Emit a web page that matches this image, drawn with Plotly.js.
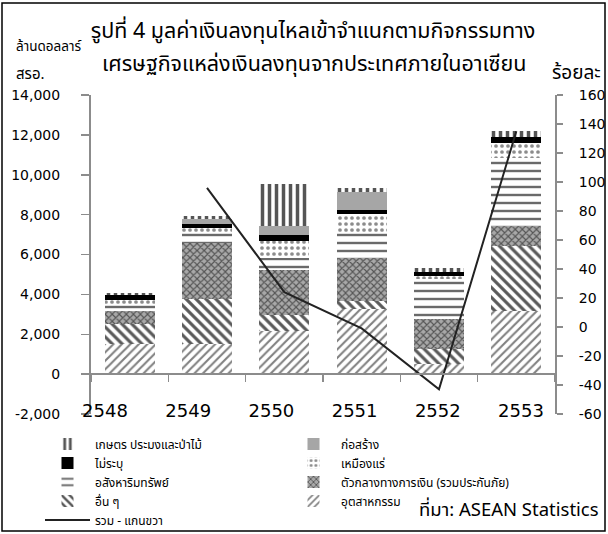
<!DOCTYPE html>
<html>
<head>
<meta charset="utf-8">
<script src="https://cdn.plot.ly/plotly-3.0.1.min.js"></script>
<style>html,body{margin:0;padding:0;background:#fff;}#chart{width:608px;height:534px;}</style>
</head>
<body>
<div id="chart"></div>
<script>
// ---- data ----
const years = ['2548', '2549', '2550', '2551', '2552', '2553'];
const industry     = [1500, 1520, 2150, 3250,  500, 3165];  // อุตสาหกรรม
const others       = [1020, 2250,  825,  415,  750, 3250];  // อื่น ๆ
const financial    = [ 660, 2800, 2250, 2165, 1500, 1000];  // ตัวกลางทางการเงิน
const realEstate   = [ 350,  500,  600, 1285, 2000, 3415];  // อสังหาริมทรัพย์
const mining       = [ 200,  250,  835,  915,  170,  750];  // เหมืองแร่
const unspecified  = [ 220,  220,  335,  220,  215,  300];  // ไม่ระบุ
const construction = [   0,  220,  415,  880,    0,    0];  // ก่อสร้าง
const agriculture  = [ 120,  150, 2135,  200,  170,  320];  // เกษตร
const totalGrowth  = [null,   96,   24,   -1,  -43,  135];  // รวม - แกนขวา (%)

const leftTickVals  = [-2000, 0, 2000, 4000, 6000, 8000, 10000, 12000, 14000];
const leftTickText  = ['-2,000', '0', '2,000', '4,000', '6,000', '8,000', '10,000', '12,000', '14,000'];
const rightTickVals = [-60, -40, -20, 0, 20, 40, 60, 80, 100, 120, 140, 160];
const rightTickText = ['-60', '-40', '-20', '0', '20', '40', '60', '80', '100', '120', '140', '160'];
const yearIndex = [0, 1, 2, 3, 4, 5];

const seriesNames = {
  industry: 'อุตสาหกรรม',
  others: 'อื่น ๆ',
  financial: 'ตัวกลางทางการเงิน (รวมประกันภัย)',
  realEstate: 'อสังหาริมทรัพย์',
  mining: 'เหมืองแร่',
  unspecified: 'ไม่ระบุ',
  construction: 'ก่อสร้าง',
  agriculture: 'เกษตร ประมงและป่าไม้',
  total: 'รวม - แกนขวา'
};

const thaiFont = "Tahoma, 'Noto Sans Thai', 'Noto Sans', 'DejaVu Sans', sans-serif";
const numFont = "'DejaVu Sans', sans-serif";

function barTrace(name, values, rank, pattern, color) {
  return {
    type: 'bar', name: name, x: years, y: values, legendrank: rank,
    marker: { color: color, line: { width: 0 }, pattern: pattern },
    hoverinfo: 'name+y'
  };
}

const traces = [
  barTrace(seriesNames.industry, industry, 8,
    { shape: '/', fgcolor: '#808080', bgcolor: '#ffffff', size: 6, solidity: 0.35, fillmode: 'replace' }, '#808080'),
  barTrace(seriesNames.others, others, 7,
    { shape: '\\', fgcolor: '#5a5a5a', bgcolor: '#ffffff', size: 7, solidity: 0.45, fillmode: 'replace' }, '#5a5a5a'),
  barTrace(seriesNames.financial, financial, 6,
    { shape: 'x', fgcolor: '#555555', bgcolor: '#a8a8a8', size: 5, solidity: 0.4, fillmode: 'replace' }, '#888888'),
  barTrace(seriesNames.realEstate, realEstate, 5,
    { shape: '-', fgcolor: '#6a6a6a', bgcolor: '#ffffff', size: 8, solidity: 0.3, fillmode: 'replace' }, '#6a6a6a'),
  barTrace(seriesNames.mining, mining, 4,
    { shape: '.', fgcolor: '#8c8c8c', bgcolor: '#ffffff', size: 6, solidity: 0.3, fillmode: 'replace' }, '#8c8c8c'),
  barTrace(seriesNames.unspecified, unspecified, 3, { shape: '' }, '#000000'),
  barTrace(seriesNames.construction, construction, 2, { shape: '' }, '#a6a6a6'),
  barTrace(seriesNames.agriculture, agriculture, 1,
    { shape: '|', fgcolor: '#555555', bgcolor: '#ffffff', size: 7, solidity: 0.5, fillmode: 'replace' }, '#555555'),
  {
    type: 'scatter', mode: 'lines', name: seriesNames.total, x: years, y: totalGrowth,
    yaxis: 'y2', legendrank: 9, connectgaps: false,
    line: { color: '#222222', width: 2 }
  },
  // carrier for the year-label axis
  { type: 'scatter', x: [], y: [], xaxis: 'x2', showlegend: false, hoverinfo: 'skip' }
];

// pixel geometry of the plot area
const W = 608, H = 534, L = 91, R = 53, T = 95, B = 120;
const pw = W - L - R, ph = H - T - B;
const px = (x) => (x - L) / pw;
const py = (y) => (H - B - y) / ph;

const layout = {
  width: W, height: H,
  margin: { l: L, r: R, t: T, b: B, autoexpand: false },
  paper_bgcolor: '#ffffff', plot_bgcolor: '#ffffff',
  barmode: 'stack', bargap: 0.35,
  showlegend: true,
  font: { family: thaiFont, color: '#000000' },
  title: {
    text: 'รูปที่ 4 มูลค่าเงินลงทุนไหลเข้าจำแนกตามกิจกรรมทาง',
    font: { family: thaiFont, size: 21.5, color: '#000000' },
    x: 313 / W, xanchor: 'center', xref: 'container',
    y: 1 - 30 / H, yanchor: 'middle', yref: 'container'
  },
  xaxis: {
    type: 'category', anchor: 'free', position: 2000 / 16000,
    showline: true, linecolor: '#8c8c8c', linewidth: 2,
    ticks: 'outside', tickson: 'boundaries', ticklen: 7, tickwidth: 1.5, tickcolor: '#8c8c8c',
    showticklabels: false, showgrid: false, zeroline: false, fixedrange: true
  },
  xaxis2: {
    type: 'linear', overlaying: 'x', anchor: 'free', position: 0.05,
    range: [(L - 105) / 83.2, (L + pw - 105) / 83.2],
    tickmode: 'array', tickvals: yearIndex, ticktext: years,
    showline: false, ticks: '', showgrid: false, zeroline: false,
    tickfont: { family: numFont, size: 18, color: '#000000' }
  },
  yaxis: {
    range: [-2000, 14000], tickmode: 'array', tickvals: leftTickVals, ticktext: leftTickText,
    showline: true, linecolor: '#8c8c8c', linewidth: 2,
    ticks: 'outside', ticklen: 8, tickwidth: 1.5, tickcolor: '#8c8c8c',
    ticklabelstandoff: 18,
    showgrid: false, zeroline: false,
    tickfont: { family: numFont, size: 14, color: '#000000' }
  },
  yaxis2: {
    overlaying: 'y', side: 'right',
    range: [-60, 160], tickmode: 'array', tickvals: rightTickVals, ticktext: rightTickText,
    showline: true, linecolor: '#8c8c8c', linewidth: 2,
    ticks: 'outside', ticklen: 6, tickwidth: 1.5, tickcolor: '#8c8c8c',
    ticklabelstandoff: 13,
    showgrid: false, zeroline: false,
    tickfont: { family: numFont, size: 14, color: '#000000' }
  },
  legend: {
    orientation: 'h', traceorder: 'normal', tracegroupgap: 0,
    x: px(40), xanchor: 'left', y: py(429.5), yanchor: 'top',
    entrywidth: 186, entrywidthmode: 'pixels', itemwidth: 45,
    font: { family: thaiFont, size: 12, color: '#000000' },
    bgcolor: 'rgba(0,0,0,0)'
  },
  annotations: [
    { text: 'เศรษฐกิจแหล่งเงินลงทุนจากประเทศภายในอาเซียน', xref: 'paper', yref: 'paper',
      x: px(314), y: py(64), xanchor: 'center', yanchor: 'middle', showarrow: false,
      font: { family: thaiFont, size: 21.5, color: '#000000' } },
    { text: 'ล้านดอลลาร์', xref: 'paper', yref: 'paper', x: px(14), y: py(47),
      xanchor: 'left', yanchor: 'middle', showarrow: false,
      font: { family: thaiFont, size: 13.5, color: '#000000' } },
    { text: 'สรอ.', xref: 'paper', yref: 'paper', x: px(14), y: py(74),
      xanchor: 'left', yanchor: 'middle', showarrow: false,
      font: { family: thaiFont, size: 15, color: '#000000' } },
    { text: 'ร้อยละ', xref: 'paper', yref: 'paper', x: px(603), y: py(73),
      xanchor: 'right', yanchor: 'middle', showarrow: false,
      font: { family: thaiFont, size: 19, color: '#000000' } },
    { text: 'ที่มา: ASEAN Statistics', xref: 'paper', yref: 'paper', x: px(601), y: py(510),
      xanchor: 'right', yanchor: 'middle', showarrow: false,
      font: { family: thaiFont, size: 18.5, color: '#000000' } }
  ],
  shapes: [
    { type: 'rect', xref: 'paper', yref: 'paper',
      x0: px(2), x1: px(605), y0: py(531), y1: py(3),
      line: { color: '#000000', width: 1.5 }, fillcolor: 'rgba(0,0,0,0)', layer: 'above' }
  ]
};

Plotly.newPlot('chart', traces, layout, { displayModeBar: false, staticPlot: true });
</script>
</body>
</html>
